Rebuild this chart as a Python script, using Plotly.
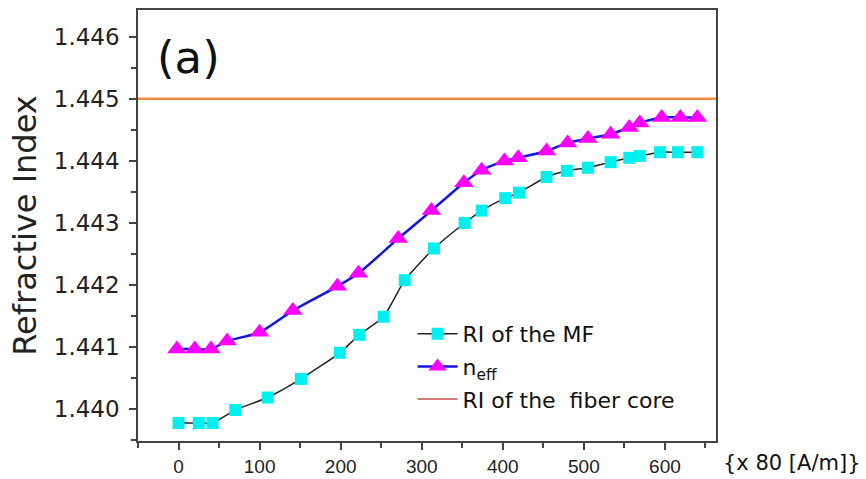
import plotly.graph_objects as go

# Data
mf_x = [0, 25, 42, 70, 110, 151, 199, 223, 253, 279, 315, 353, 374, 403, 420,
        454, 479, 505, 533, 556, 569, 594, 616, 640]
mf_y = [1.43978, 1.43978, 1.43978, 1.43999, 1.44019, 1.44049, 1.44091, 1.44120,
        1.44149, 1.44208, 1.44259, 1.44300, 1.44320, 1.44340, 1.44349, 1.44374,
        1.44384, 1.44389, 1.44398, 1.44405, 1.44408, 1.44414, 1.44414, 1.44414]

neff_x = [-2, 20, 40, 60, 100, 141, 196, 222, 271, 312, 352, 374, 402, 419,
          454, 480, 505, 533, 556, 569, 596, 619, 640]
neff_y = [1.44097, 1.44097, 1.44097, 1.44110, 1.44124, 1.44159, 1.44198, 1.44219,
          1.44275, 1.44320, 1.44365, 1.44385, 1.44400, 1.44405, 1.44416, 1.44429,
          1.44436, 1.44443, 1.44454, 1.44461, 1.44470, 1.44470, 1.44470]

core_ri = 1.445
x_range = [-50, 663]
y_range = [1.43949, 1.44643]
y_ticks = [1.440, 1.441, 1.442, 1.443, 1.444, 1.445, 1.446]
y_ticklabels = ["1.440", "1.441", "1.442", "1.443", "1.444", "1.445", "1.446"]
x_ticks = [0, 100, 200, 300, 400, 500, 600]

fig = go.Figure()

# fiber core line (drawn in orange across the full axis)
fig.add_trace(go.Scatter(
    x=x_range, y=[core_ri, core_ri], mode="lines",
    line=dict(color="#f28c3a", width=2.5), showlegend=False, hoverinfo="skip"))

fig.add_trace(go.Scatter(
    x=mf_x, y=mf_y, mode="lines+markers", name="RI of the MF",
    line=dict(color="#222222", width=1.5, shape="spline", smoothing=0.5),
    marker=dict(symbol="square", size=12, color="#00f0f0"),
    legendgroup="a"))

fig.add_trace(go.Scatter(
    x=neff_x, y=neff_y, mode="lines+markers", name="n<sub>eff</sub>",
    line=dict(color="#1414e0", width=2.5, shape="spline", smoothing=0.6),
    marker=dict(symbol="triangle-up", size=17, color="#ff00ff"),
    legendgroup="b"))

# legend entry for the core line
fig.add_trace(go.Scatter(
    x=[None], y=[None], mode="lines", name="RI of the  fiber core",
    line=dict(color="#c0504d", width=1.5), legendgroup="c"))

axis_common = dict(
    showline=True, linecolor="#444444", linewidth=1.5, mirror=True,
    showgrid=False, zeroline=False, ticks="outside", ticklen=7,
    tickcolor="#444444", tickwidth=1.5, automargin=False,
)

fig.update_xaxes(
    range=x_range, tickvals=x_ticks,
    tickfont=dict(family="Liberation Sans", size=19, color="#222222"),
    minor=dict(dtick=50, tick0=0, ticks="outside", ticklen=5, tickcolor="#444444", tickwidth=1.5),
    **axis_common)

fig.update_yaxes(
    range=y_range, tickvals=y_ticks, ticktext=y_ticklabels,
    tickfont=dict(family="DejaVu Sans", size=23, color="#222222"),
    ticklabelstandoff=5,
    minor=dict(dtick=0.0005, tick0=1.44, ticks="outside", ticklen=5, tickcolor="#444444", tickwidth=1.5),
    title=dict(text="Refractive Index", font=dict(family="DejaVu Sans", size=32, color="#222222"), standoff=8),
    **axis_common)

fig.add_annotation(
    text="(a)", xref="paper", yref="paper", x=0.03, y=0.955,
    xanchor="left", yanchor="top", showarrow=False,
    font=dict(family="DejaVu Sans", size=45, color="#111111"))

fig.add_annotation(
    text="{x 80 [A/m]}", xref="paper", yref="paper", x=1.008, y=-0.018,
    xanchor="left", yanchor="top", showarrow=False,
    font=dict(family="DejaVu Sans", size=21, color="#111111"))

fig.update_layout(
    width=866, height=479,
    margin=dict(l=138, r=150, t=10, b=38),
    plot_bgcolor="white", paper_bgcolor="white",
    legend=dict(x=0.475, y=0.297, xanchor="left", yanchor="top",
                font=dict(family="DejaVu Sans", size=22, color="#111111"),
                bgcolor="rgba(0,0,0,0)", traceorder="grouped", tracegroupgap=1,
                itemwidth=40),
)

fig.write_html("out.html")
